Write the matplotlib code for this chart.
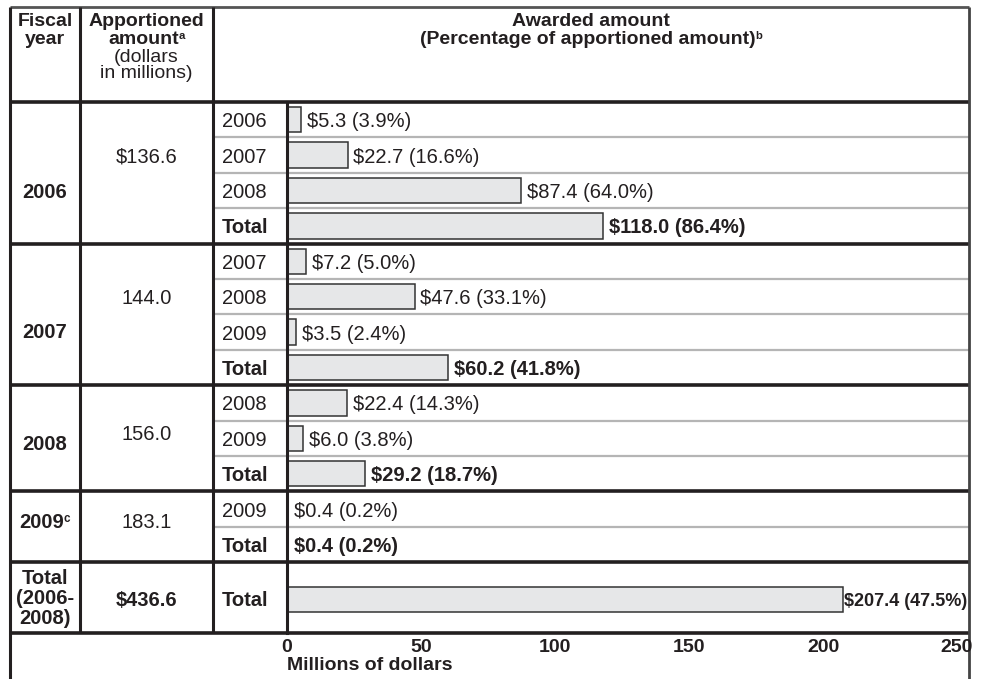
import matplotlib.pyplot as plt

plt.rcParams['font.family'] = ['Liberation Sans', 'DejaVu Sans']

# data
fiscal_years = ['2006', '2007', '2008', '2009']
fiscal_notes = ['', '', '', 'c']
apportioned = ['$136.6', '144.0', '156.0', '183.1']
award_years = [['2006', '2007', '2008', 'Total'],
               ['2007', '2008', '2009', 'Total'],
               ['2008', '2009', 'Total'],
               ['2009', 'Total']]
award_values = [[5.3, 22.7, 87.4, 118.0],
                [7.2, 47.6, 3.5, 60.2],
                [22.4, 6.0, 29.2],
                [0.4, 0.4]]
award_pcts = [[3.9, 16.6, 64.0, 86.4],
              [5.0, 33.1, 2.4, 41.8],
              [14.3, 3.8, 18.7],
              [0.2, 0.2]]
total_apportioned = '$436.6'
total_awarded = 207.4
total_pct = 47.5
ticks = [0, 50, 100, 150, 200, 250]

# layout in pixels
W, H = 982, 679
X0, X1, X2, X3, X4 = 10, 80, 213, 287, 969
Y_TOP, Y_HEAD, Y_BOT = 7, 102, 633
X250 = 957
n_units = 15
ROW = (Y_BOT - Y_HEAD) / n_units
INK = '#231f20'
FS = 14.5
FS_HEAD = 14

def ypx(u):
    return Y_HEAD + u * ROW

fig = plt.figure(figsize=(W / 100, H / 100), dpi=100)
grid = fig.add_axes([0, 0, 1, 1], zorder=0)
grid.set_xlim(0, W)
grid.set_ylim(H, 0)
grid.axis('off')

ax = fig.add_axes([X3 / W, 1 - Y_BOT / H, (X4 - X3) / W, (Y_BOT - Y_HEAD) / H], zorder=1)
ax.patch.set_alpha(0)
ax.set_xlim(0, 250 * (X4 - X3) / (X250 - X3))
ax.set_ylim(n_units, 0)
for s in ['top', 'right', 'bottom']:
    ax.spines[s].set_visible(False)
ax.spines['left'].set_linewidth(2.2)
ax.spines['left'].set_color(INK)
ax.set_yticks([])
ax.set_xticks(ticks)
ax.tick_params(axis='x', length=0, pad=4, labelsize=FS_HEAD, colors=INK)
for t in ax.get_xticklabels():
    t.set_fontweight('bold')
ax.set_xlabel('Millions of dollars', loc='left', fontweight='bold', fontsize=FS_HEAD,
              color=INK, labelpad=1)


def hline(y, xa, xb, lw, color=INK):
    grid.plot([xa, xb], [y, y], color=color, lw=lw, solid_capstyle='butt')


def vline(x, ya, yb, lw, color=INK):
    grid.plot([x, x], [ya, yb], color=color, lw=lw, solid_capstyle='butt')


def label(x, y, s, bold=False, ha='center', size=FS, note=''):
    t = grid.text(x, y, s, ha=ha, va='center_baseline', fontsize=size, color=INK,
                  fontweight='bold' if bold else 'normal')
    if note:
        # small superscript hung on the top-right corner of the text
        grid.annotate(note, xy=(1, 0.68), xycoords=t, xytext=(-0.3, 0),
                      textcoords='offset points', ha='left', va='center',
                      fontsize=size * 0.58, fontweight='bold', color=INK)
    return t


# header
hline(Y_TOP, X0, X4, 2.0, '#555555')
label((X0 + X1) / 2, 20, 'Fiscal', True, size=FS_HEAD)
label((X0 + X1) / 2, 37, 'year', True, size=FS_HEAD)
label((X1 + X2) / 2, 20, 'Apportioned', True, size=FS_HEAD)
label((X1 + X2) / 2 - 3, 37, 'amount', True, size=FS_HEAD, note='a')
label((X1 + X2) / 2, 55, '(dollars', size=FS_HEAD)
label((X1 + X2) / 2, 71, 'in millions)', size=FS_HEAD)
label((X2 + X4) / 2, 20, 'Awarded amount', True, size=FS_HEAD)
label((X2 + X4) / 2 - 3, 37, '(Percentage of apportioned amount)', True, size=FS_HEAD,
      note='b')

col1_y = [190, 330, 442, 520]
col2_y = [155, 296, 433, 520]

bar_kw = dict(height=0.72, color='#e6e7e8', edgecolor='#333333', linewidth=1.1, zorder=2)

r = 0
for g in range(len(award_years)):
    off = -3 if fiscal_notes[g] else 0
    label((X0 + X1) / 2 + off, col1_y[g], fiscal_years[g], True, note=fiscal_notes[g])
    label((X1 + X2) / 2, col2_y[g], apportioned[g])
    n = len(award_years[g])
    for i in range(n):
        yr = award_years[g][i]
        v = award_values[g][i]
        p = award_pcts[g][i]
        is_tot = yr == 'Total'
        ax.barh(r + 0.5, v, **bar_kw)
        ax.annotate(f'${v:.1f} ({p:.1f}%)', (v, r + 0.5), xytext=(4, 0),
                    textcoords='offset points', va='center_baseline', fontsize=FS,
                    color=INK, fontweight='bold' if is_tot else 'normal')
        label(222, ypx(r + 0.5), yr, is_tot, ha='left')
        if i < n - 1:
            hline(ypx(r + 1), X2, X4, 1.6, '#b5b5b5')
        r += 1
    hline(ypx(r), X0, X4, 2.6)

# grand total row
label((X0 + X1) / 2, 577, 'Total', True)
label((X0 + X1) / 2, 597, '(2006-', True)
label((X0 + X1) / 2, 617, '2008)', True)
label((X1 + X2) / 2, 599, total_apportioned, True)
label(222, 599, 'Total', True, ha='left')
ax.barh(r + 1.05, total_awarded, **bar_kw)
ax.annotate(f'${total_awarded:.1f} ({total_pct:.1f}%)', (total_awarded, r + 1.05),
            xytext=(1.2, 0), textcoords='offset points', va='center_baseline',
            fontsize=13, color=INK, fontweight='bold')

# frame
hline(Y_HEAD, X0, X4, 2.6)
hline(Y_BOT, X0, X4, 2.6)
vline(X0, Y_TOP, H, 2.2)
vline(X1, Y_TOP, Y_BOT, 2.2)
vline(X2, Y_TOP, Y_BOT, 2.2)
vline(X4, Y_TOP, H, 2.0, '#444444')

fig.savefig('out.png', dpi=100)
